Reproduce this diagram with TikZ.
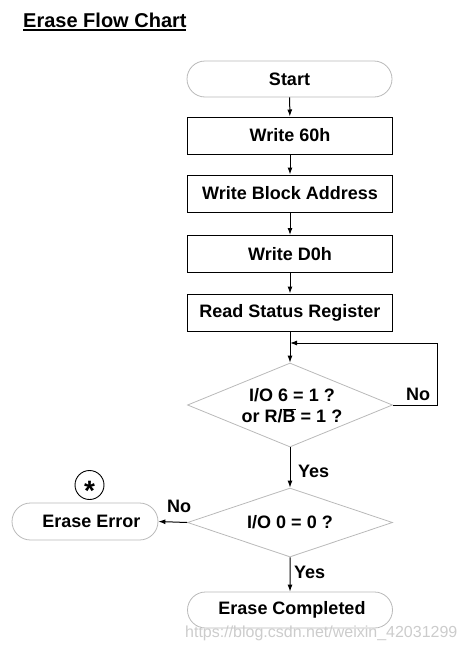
\documentclass[tikz,border=0pt]{standalone}
\usepackage{fontspec}
\setmainfont{Liberation Sans}
\usetikzlibrary{shapes.geometric,shapes.misc,arrows.meta}
\begin{document}
\begin{tikzpicture}[x=1pt,y=-1pt,
  font=\fontsize{18}{21}\selectfont\bfseries,
  procbox/.style={draw=black,line width=1pt,rectangle,minimum width=205pt,minimum height=37pt,inner sep=0pt},
  termbox/.style={draw=gray!55,line width=0.8pt,rounded rectangle,minimum width=205pt,minimum height=36pt,inner sep=0pt},
  decbox/.style={draw=gray!55,line width=0.8pt,diamond,minimum width=205pt,minimum height=84pt,inner sep=0pt},
  dectext/.style={inner sep=0pt,align=center},
  flow/.style={draw=black,line width=1pt,-{Latex[length=7pt,width=5pt]}},
  lbl/.style={inner sep=0pt,anchor=west}]
\useasboundingbox (0,0) rectangle (466,651);

\node[inner sep=0pt,anchor=base west,font=\fontsize{20}{24}\selectfont\bfseries] (title) at (23,27) {Erase Flow Chart};
\draw[line width=1.8pt] (23,30) -- (186,30);

\node[termbox] (start) at (289.5,79) {Start};
\node[procbox] (w60) at (290,135.5) {Write 60h};
\node[procbox] (wba) at (290,193.5) {Write Block Address};
\node[procbox] (wd0) at (290,254) {Write D0h};
\node[procbox] (rsr) at (290,312.5) {Read Status Register};
\node[decbox] (d1) at (290,405) {};
\node[dectext] (d1t) at (292,406) {I/O 6 = 1 ?\\or R/$\overline{\mbox{B}}$ = 1 ?};
\node[decbox,minimum height=69pt] (d2) at (290,522.5) {};
\node[dectext] (d2t) at (290,522.5) {I/O 0 = 0 ?};
\node[termbox,minimum width=146pt,minimum height=37pt] (err) at (85,521.5) {\hspace*{13pt}Erase Error};
\node[termbox,minimum width=205pt] (done) at (290,610) {\hspace*{4pt}Erase Completed};
\node[draw=black,line width=0.9pt,circle,minimum size=29pt,inner sep=0pt] (star) at (89.5,485) {};
\node[inner sep=0pt,font=\fontsize{28}{28}\selectfont\bfseries] at (89.5,491) {*};

\coordinate (loopin) at (290,343);
\coordinate (loopa) at (437,405);
\coordinate (loopb) at (437,343);

\draw[flow] (start) -- (w60);
\draw[flow] (w60) -- (wba);
\draw[flow] (wba) -- (wd0);
\draw[flow] (wd0) -- (rsr);
\draw[flow] (rsr) -- (d1.north);
\draw[line width=1pt] (d1.east) -- (loopa) -- (loopb);
\draw[flow] (loopb) -- (loopin);
\draw[flow] (d1.south) -- (d2.north);
\draw[flow] (d2.west) -- (err.east);
\draw[flow] (d2.south) -- (done);

\node[lbl] (no1) at (406,394) {No};
\node[lbl] (yes1) at (298,471) {Yes};
\node[lbl] (no2) at (167,506) {No};
\node[lbl] (yes2) at (294,572) {Yes};

\node[inner sep=0pt,anchor=west,font=\fontsize{16}{18}\selectfont,text=gray!40] (wm) at (185,633) {https://blog.csdn.net/weixin\_42031299};
\end{tikzpicture}
\end{document}
